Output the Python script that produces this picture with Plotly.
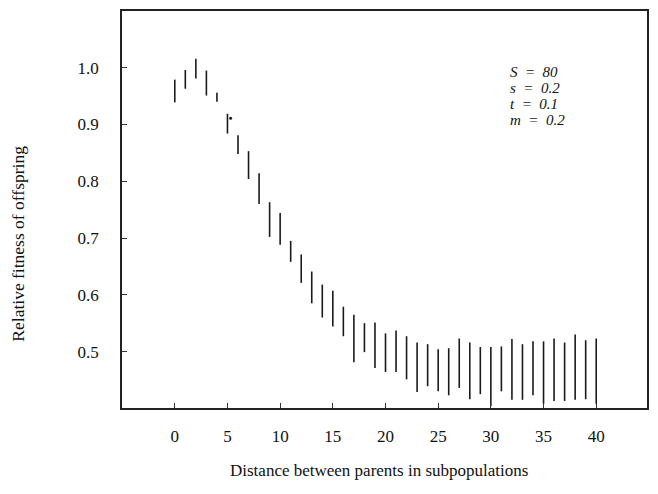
import plotly.graph_objects as go

distance = list(range(41))
fit_low = [0.939, 0.963, 0.981, 0.951, 0.940, 0.884, 0.848, 0.804, 0.760, 0.702,
           0.688, 0.658, 0.621, 0.585, 0.560, 0.544, 0.527, 0.481, 0.499, 0.471,
           0.464, 0.464, 0.451, 0.429, 0.439, 0.430, 0.423, 0.436, 0.416, 0.425,
           0.404, 0.430, 0.415, 0.415, 0.423, 0.408, 0.413, 0.413, 0.415, 0.416,
           0.408]
fit_high = [0.979, 0.996, 1.016, 0.995, 0.956, 0.919, 0.881, 0.853, 0.814, 0.763,
            0.744, 0.695, 0.671, 0.641, 0.618, 0.607, 0.579, 0.565, 0.550, 0.551,
            0.532, 0.537, 0.527, 0.516, 0.513, 0.504, 0.506, 0.523, 0.516, 0.508,
            0.508, 0.509, 0.522, 0.513, 0.518, 0.518, 0.523, 0.516, 0.530, 0.520,
            0.523]
dot_x = [5.3]
dot_y = [0.911]
x_ticks = [0, 5, 10, 15, 20, 25, 30, 35, 40]
y_ticks = [0.5, 0.6, 0.7, 0.8, 0.9, 1.0]
params = ["S&nbsp;&nbsp;=&nbsp;&nbsp;80", "s&nbsp;&nbsp;=&nbsp;&nbsp;0.2",
          "t&nbsp;&nbsp;=&nbsp;&nbsp;0.1", "m&nbsp;&nbsp;=&nbsp;&nbsp;0.2"]

FONT = "Liberation Serif, Times New Roman, serif"

xs, ys = [], []
for d, lo, hi in zip(distance, fit_low, fit_high):
    xs += [d, d, None]
    ys += [lo, hi, None]

fig = go.Figure()
fig.add_trace(go.Scatter(x=xs, y=ys, mode="lines",
                         line=dict(color="#1a1a1a", width=1.6),
                         hoverinfo="skip", showlegend=False))
fig.add_trace(go.Scatter(x=dot_x, y=dot_y, mode="markers",
                         marker=dict(color="#1a1a1a", size=3),
                         showlegend=False))

axis_common = dict(showline=True, linecolor="#222", linewidth=1.5, mirror=True,
                   ticks="inside", ticklen=5, tickcolor="#333", tickwidth=1,
                   showgrid=False, zeroline=False,
                   tickfont=dict(family=FONT, size=17, color="#111"))

fig.update_xaxes(range=[-5.01, 44.82], tickvals=x_ticks, ticklabelstandoff=12, **axis_common)
fig.update_yaxes(range=[0.4006, 1.0999], tickvals=y_ticks, tickformat=".1f",
                 ticklabelstandoff=18, **axis_common)

annotations = [
    dict(text="Distance between parents in subpopulations", xref="paper", yref="paper",
         x=0.49, y=0, yshift=-62, showarrow=False, xanchor="center", yanchor="middle",
         font=dict(family=FONT, size=17, color="#111")),
    dict(text="Relative fitness of offspring", xref="paper", yref="paper",
         x=0, y=0.414, xshift=-104, showarrow=False, textangle=-90,
         xanchor="center", yanchor="middle",
         font=dict(family=FONT, size=17.5, color="#111")),
]
for k, p in enumerate(params):
    annotations.append(dict(text="<i>" + p + "</i>", xref="paper", yref="paper",
                            x=0.736, y=0.847, yshift=-16 * k, showarrow=False,
                            xanchor="left", yanchor="middle",
                            font=dict(family=FONT, size=15, color="#111")))

fig.update_layout(width=642, height=478, margin=dict(l=114, r=1, t=1, b=78),
                  paper_bgcolor="white", plot_bgcolor="white",
                  annotations=annotations, showlegend=False)

fig.write_html("out.html")
